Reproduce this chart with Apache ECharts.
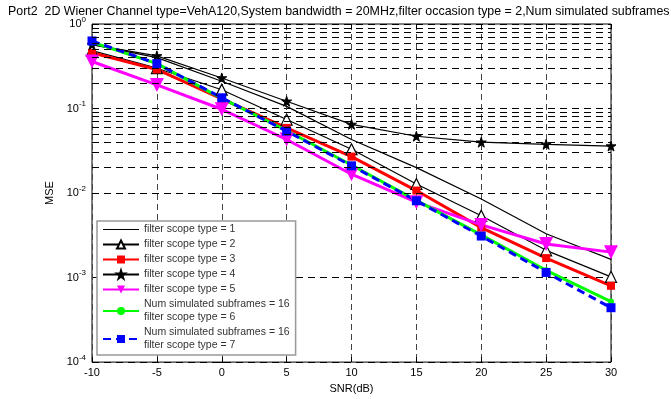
<!DOCTYPE html>
<html>
<head>
<meta charset="utf-8">
<script src="https://cdn.jsdelivr.net/npm/echarts@6/dist/echarts.min.js"></script>
<style>
  html, body { margin: 0; padding: 0; background: #fff; }
  #chart { width: 671px; height: 399px; }
</style>
</head>
<body>
<div id="chart"></div>
<script>
const snr = [-10, -5, 0, 5, 10, 15, 20, 25, 30]
const scope1 = [0.57, 0.40, 0.21, 0.106, 0.043, 0.020, 0.0085, 0.0033, 0.00164]
const scope2 = [0.485, 0.30, 0.167, 0.074, 0.033, 0.0128, 0.0054, 0.0021, 0.00102]
const scope3 = [0.456, 0.29, 0.13, 0.059, 0.027, 0.0107, 0.0039, 0.0017, 0.0008]
const scope4 = [0.57, 0.42, 0.23, 0.122, 0.065, 0.047, 0.040, 0.0377, 0.036]
const scope5 = [0.36, 0.19, 0.098, 0.043, 0.0167, 0.0078, 0.0042, 0.0025, 0.0020]
const scope6 = [0.61, 0.34, 0.132, 0.055, 0.0215, 0.0082, 0.0032, 0.00122, 0.00052]
const scope7 = [0.63, 0.34, 0.134, 0.054, 0.021, 0.0081, 0.0031, 0.00115, 0.00044]
const names = [
  'filter scope type = 1',
  'filter scope type = 2',
  'filter scope type = 3',
  'filter scope type = 4',
  'filter scope type = 5',
  'Num simulated subframes = 16\nfilter scope type = 6',
  'Num simulated subframes = 16\nfilter scope type = 7',
]

// minor grid of the log axis: 2..9 x each decade
const minorGrid = []
for (let d = -4; d < 0; d++) {
  for (let k = 2; k <= 9; k++) minorGrid.push(k * Math.pow(10, d))
}

const star = 'path://M50,0 L61,35 L98,35 L68,57 L79,91 L50,70 L21,91 L32,57 L2,35 L39,35 Z'
const pairs = (ys) => snr.map((x, i) => [x, ys[i]])

const chart = echarts.init(document.getElementById('chart'))
const option = {
  backgroundColor: '#fff',
  animation: false,
  textStyle: { fontFamily: 'Liberation Sans, Arial, sans-serif' },
  title: {
    text: 'Port2  2D Wiener Channel type=VehA120,System bandwidth = 20MHz,filter occasion type = 2,Num simulated subframes',
    left: 3,
    top: 1,
    textStyle: { fontSize: 12.4, fontWeight: 'normal', color: '#000' },
  },
  grid: {
    left: 92, right: 60, top: 24, bottom: 35,
    show: true, borderColor: '#000', borderWidth: 1, backgroundColor: '#fff',
  },
  legend: {
    orient: 'vertical',
    left: 97,
    top: 221,
    padding: [2, 6, 3, 5],
    itemGap: 2,
    itemWidth: 36,
    itemHeight: 10,
    backgroundColor: '#fff',
    borderColor: '#999',
    borderWidth: 1.5,
    textStyle: { fontSize: 10.5, color: '#333', lineHeight: 13 },
    data: [
      { name: names[0], icon: 'path://M0,0 L36,0 L36,1.2 L0,1.2 Z' },
      names[1], names[2], names[3], names[4], names[5], names[6],
    ],
  },
  xAxis: [
    {
      type: 'value', min: -10, max: 30, interval: 5,
      name: 'SNR(dB)', nameLocation: 'middle', nameGap: 20,
      nameTextStyle: { fontSize: 11, color: '#000' },
      axisLine: { show: false },
      axisTick: { inside: true, length: 5, lineStyle: { color: '#000' } },
      axisLabel: { fontSize: 11, color: '#000', margin: 5 },
      splitLine: { show: true, lineStyle: { type: [6, 4], color: '#444', width: 1 } },
    },
    {
      type: 'value', min: -10, max: 30, interval: 5, position: 'top',
      axisLine: { show: false },
      axisTick: { inside: true, length: 5, lineStyle: { color: '#000' } },
      axisLabel: { show: false },
      splitLine: { show: false },
    },
  ],
  yAxis: [
    {
      type: 'log', logBase: 10, min: 1e-4, max: 1,
      name: 'MSE', nameLocation: 'middle', nameGap: 33, nameRotate: 90,
      nameTextStyle: { fontSize: 11, color: '#000' },
      axisLine: { show: false },
      axisTick: { inside: true, length: 5, lineStyle: { color: '#000' } },
      axisLabel: {
        margin: 6,
        formatter: (v) => '{b|10}{e|' + Math.round(Math.log10(v)) + '}',
        rich: {
          b: { fontSize: 11, color: '#000' },
          e: { fontSize: 8, color: '#000', verticalAlign: 'bottom', padding: [0, 0, 9, 0] },
        },
      },
      splitLine: { show: true, lineStyle: { type: [7, 5], color: '#000', width: 1 } },
    },
    {
      type: 'log', logBase: 10, min: 1e-4, max: 1, position: 'right',
      axisLine: { show: false },
      axisTick: { inside: true, length: 5, lineStyle: { color: '#000' } },
      axisLabel: { show: false },
      splitLine: { show: false },
    },
  ],
  series: [
    {
      name: names[0], type: 'line', z: 1, symbol: 'none',
      lineStyle: { color: '#000', width: 1.2 }, itemStyle: { color: '#000' },
      data: pairs(scope1),
      markLine: {
        silent: true, symbol: 'none', label: { show: false },
        lineStyle: { type: [7, 5], color: '#000', width: 1 },
        data: minorGrid.map((v) => ({ yAxis: v })),
      },
    },
    {
      name: names[1], type: 'line', z: 3, symbol: 'triangle', symbolSize: 11,
      lineStyle: { color: '#000', width: 1.2 },
      itemStyle: { color: '#fff', borderColor: '#000', borderWidth: 1.2 },
      data: pairs(scope2),
    },
    {
      name: names[2], type: 'line', z: 3, symbol: 'rect', symbolSize: 8,
      lineStyle: { color: '#ff0000', width: 3 }, itemStyle: { color: '#ff0000' },
      data: pairs(scope3),
    },
    {
      name: names[3], type: 'line', z: 3, symbol: star, symbolSize: 10,
      lineStyle: { color: '#000', width: 1.2 },
      itemStyle: { color: '#000', borderColor: '#000', borderWidth: 1 },
      data: pairs(scope4),
    },
    {
      name: names[4], type: 'line', z: 3, symbol: 'triangle', symbolRotate: 180, symbolSize: 14,
      lineStyle: { color: '#ff00ff', width: 3 }, itemStyle: { color: '#ff00ff' },
      data: pairs(scope5),
    },
    {
      name: names[5], type: 'line', z: 3, symbol: 'circle', symbolSize: 6,
      lineStyle: { color: '#00ff00', width: 3 }, itemStyle: { color: '#00ff00' },
      data: pairs(scope6),
    },
    {
      name: names[6], type: 'line', z: 3, symbol: 'rect', symbolSize: 9,
      lineStyle: { color: '#0000ff', width: 3, type: [8, 5] }, itemStyle: { color: '#0000ff' },
      data: pairs(scope7),
    },
  ],
}
chart.setOption(option)
</script>
</body>
</html>
